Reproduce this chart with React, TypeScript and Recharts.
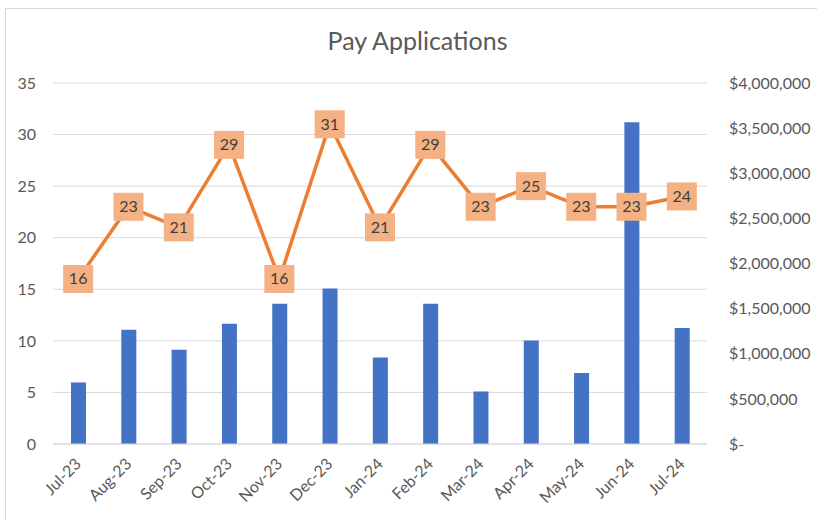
import React from 'react';
import { ComposedChart, Bar, Line, XAxis, YAxis, CartesianGrid, LabelList } from 'recharts';

const months = ['Jul-23', 'Aug-23', 'Sep-23', 'Oct-23', 'Nov-23', 'Dec-23', 'Jan-24', 'Feb-24', 'Mar-24', 'Apr-24', 'May-24', 'Jun-24', 'Jul-24'];
const amounts = [682000, 1265000, 1044000, 1332000, 1553000, 1723000, 959000, 1553000, 582000, 1147000, 786000, 3565000, 1284000];
const counts = [16, 23, 21, 29, 16, 31, 21, 29, 23, 25, 23, 23, 24];
const leftTicks = [0, 5, 10, 15, 20, 25, 30, 35];
const rightTicks = [0, 500000, 1000000, 1500000, 2000000, 2500000, 3000000, 3500000, 4000000];

const data = months.map((m, i) => ({ month: m, amount: amounts[i], count: counts[i] }));

const FONT = 'Lato, "Open Sans", sans-serif';
const GREY = '#595959';

const fmtMoney = (v: number) => (v === 0 ? '$-' : '$' + v.toLocaleString('en-US'));

const MonthTick = (props: any) => {
  const { x, y, payload } = props;
  const tx = x + 4;
  const ty = y + 13;
  return (
    <text x={tx} y={ty} transform={`rotate(-45, ${tx}, ${ty})`} textAnchor="end" fill={GREY} fontSize={16} fontFamily={FONT}>
      {payload.value}
    </text>
  );
};

const BoxLabel = (props: any) => {
  const { x, y, value } = props;
  return (
    <g>
      <rect x={x - 15} y={y - 14} width={30} height={28} fill="#F4B183" />
      <text x={x} y={y + 5.5} textAnchor="middle" fill="#404040" fontSize={16} fontFamily={FONT}>
        {value}
      </text>
    </g>
  );
};

export default function App() {
  return (
    <div style={{ position: 'absolute', left: 0, top: 0, width: 817, height: 520, overflow: 'hidden', background: '#fff' }}>
      <div style={{ position: 'absolute', left: 5, top: 8, width: 900, height: 600, border: '1px solid #d9d9d9' }} />
      <div style={{ position: 'absolute', left: 0, top: 25, width: 835, textAlign: 'center', fontFamily: FONT, fontSize: 25, color: GREY }}>
        Pay Applications
      </div>
      <div style={{ position: 'absolute', left: 0, top: 0 }}>
        <ComposedChart width={817} height={520} data={data} margin={{ top: 83, right: 0, bottom: 0, left: 0 }}>
          <CartesianGrid yAxisId="left" vertical={false} stroke="#d9d9d9" />
          <XAxis dataKey="month" height={76} tick={<MonthTick />} tickLine={false} axisLine={{ stroke: '#d9d9d9' }} interval={0} />
          <YAxis
            yAxisId="left"
            orientation="left"
            width={53}
            domain={[0, 35]}
            ticks={leftTicks}
            axisLine={false}
            tickLine={false}
            tickMargin={11}
            tick={{ fill: GREY, fontSize: 16, fontFamily: FONT }}
          />
          <YAxis
            yAxisId="right"
            orientation="right"
            width={110}
            domain={[0, 4000000]}
            ticks={rightTicks}
            tickFormatter={fmtMoney}
            axisLine={false}
            tickLine={false}
            tickMargin={16}
            tick={{ fill: GREY, fontSize: 16, fontFamily: FONT }}
          />
          <Bar yAxisId="right" dataKey="amount" fill="#4472C4" barSize={15} isAnimationActive={false} />
          <Line yAxisId="left" dataKey="count" stroke="#ED7D31" strokeWidth={3.5} dot={false} isAnimationActive={false}>
            <LabelList dataKey="count" content={<BoxLabel />} />
          </Line>
        </ComposedChart>
      </div>
    </div>
  );
}
